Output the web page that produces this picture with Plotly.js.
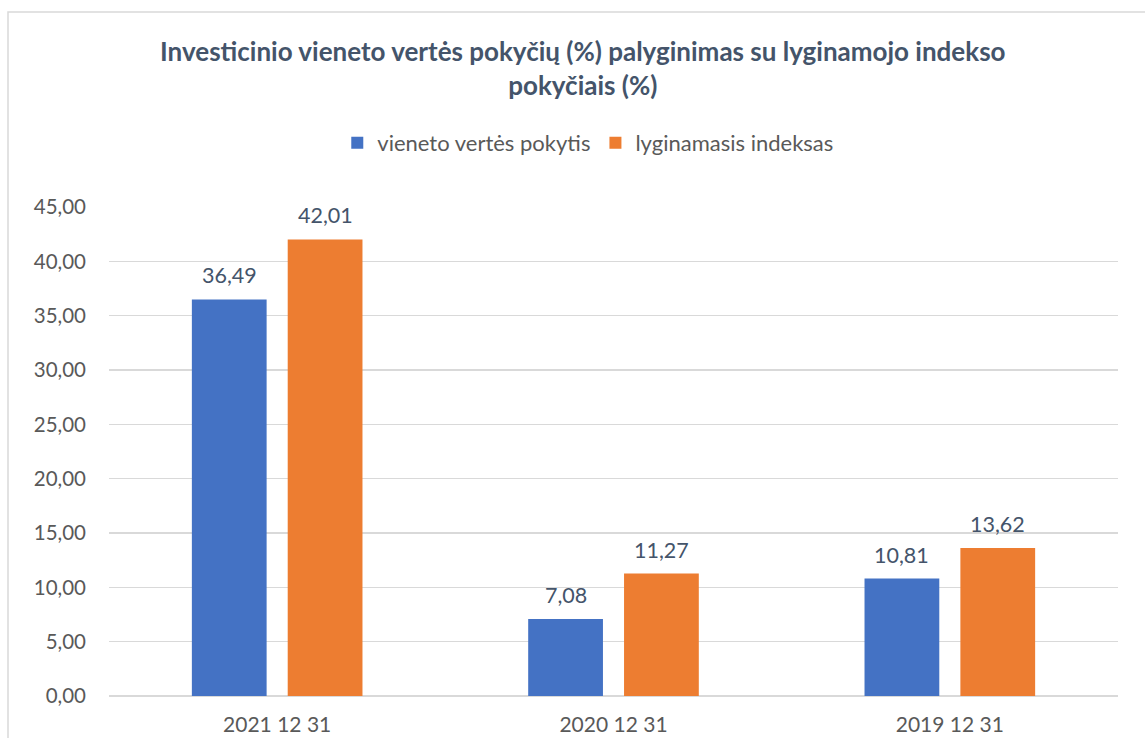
<!DOCTYPE html>
<html>
<head>
<meta charset="utf-8">
<script src="https://cdn.plot.ly/plotly-3.0.1.min.js"></script>
<style>html,body{margin:0;padding:0;background:#fff;}#chart{width:1145px;height:738px;}</style>
</head>
<body>
<div id="chart"></div>
<script>
const categories = ["2021 12 31", "2020 12 31", "2019 12 31"];
const unitValueChange = [36.49, 7.08, 10.81];
const benchmarkIndex = [42.01, 11.27, 13.62];
const seriesNames = ["vieneto vertės pokytis", "lyginamasis indeksas"];
const yTicks = [0, 5, 10, 15, 20, 25, 30, 35, 40, 45];

const font = "Lato, 'Open Sans', sans-serif";
const labelFont = {family: font, size: 21.5, color: "#44546A"};

const traces = [
  {type: "bar", name: seriesNames[0], x: categories, y: unitValueChange,
   marker: {color: "#4472C4"}, hoverinfo: "skip"},
  {type: "bar", name: seriesNames[1], x: categories, y: benchmarkIndex,
   marker: {color: "#ED7D31"}, hoverinfo: "skip"}
];

const fmt = v => v.toFixed(2).replace(".", ",");
const annotations = [];
[unitValueChange, benchmarkIndex].forEach((series, s) => {
  series.forEach((v, i) => {
    annotations.push({x: categories[i], y: v, xref: "x", yref: "y", text: fmt(v),
      showarrow: false, xanchor: "center", yanchor: "bottom",
      xshift: s === 0 ? -48 : 48, yshift: 9, font: labelFont});
  });
});

const layout = {
  width: 1145, height: 738,
  separators: ", ",
  paper_bgcolor: "#fff", plot_bgcolor: "#fff",
  margin: {l: 109, r: 27, t: 207, b: 42},
  font: {family: font, size: 20, color: "#595959"},
  title: {text: "<b>Investicinio vieneto vertės pokyčių (%) palyginimas su lyginamojo indekso<br>pokyčiais (%)</b>",
          font: {family: font, size: 26, color: "#44546A"},
          x: 0.509, xanchor: "center", y: 0.917, yanchor: "middle", yref: "container"},
  barmode: "group", bargap: 0.43, bargroupgap: 0.22,
  showlegend: true,
  legend: {orientation: "h", x: 0.475, xanchor: "center", y: 1.131, yanchor: "middle",
           font: {family: font, size: 22, color: "#595959"}, itemwidth: 30, traceorder: "normal"},
  xaxis: {type: "category", showgrid: false, showline: false, ticks: "", ticklabelstandoff: 14,
          tickfont: {family: font, size: 21, color: "#595959"}},
  yaxis: {range: [0, 45], tickvals: yTicks, tickformat: ".2f", showgrid: true,
          gridcolor: "#D9D9D9", gridwidth: 1.5, zeroline: true, zerolinecolor: "#D9D9D9", zerolinewidth: 1.5,
          showline: false, ticks: "", ticklabelstandoff: 22,
          tickfont: {family: font, size: 20.5, color: "#595959"}},
  annotations: annotations,
  shapes: [{type: "rect", xref: "paper", yref: "paper", x0: -0.1001, x1: 1.2, y0: -0.3, y1: 1.3988,
            line: {color: "#D9D9D9", width: 1.5}, fillcolor: "rgba(0,0,0,0)", layer: "below"}]
};

Plotly.newPlot("chart", traces, layout, {displayModeBar: false, staticPlot: true});
</script>
</body>
</html>
